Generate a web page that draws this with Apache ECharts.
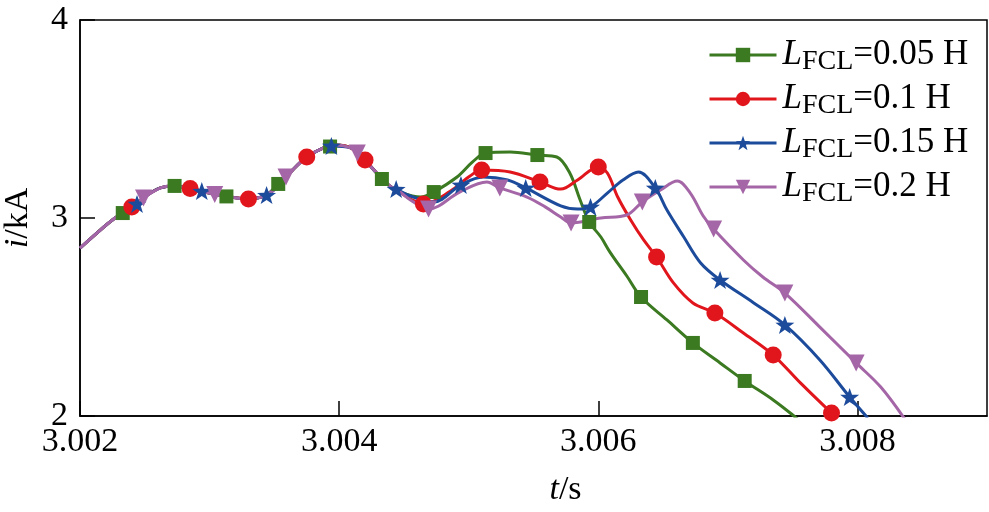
<!DOCTYPE html>
<html><head><meta charset="utf-8">
<script src="https://cdn.jsdelivr.net/npm/echarts@6/dist/echarts.min.js"></script>
<style>html,body{margin:0;padding:0;background:#fff}#c{width:989px;height:512px}</style>
</head><body><div id="c"></div>
<script>
// x: t / s, y: i / kA
const xTicks = [3.002, 3.004, 3.006, 3.008];
const yTicks = [2, 3, 4];
const seriesNames = ['LFCL=0.05 H', 'LFCL=0.1 H', 'LFCL=0.15 H', 'LFCL=0.2 H'];

// shared part of all four curves
const common = [
  [3.00200,2.848],[3.00213,2.924],[3.00225,2.990],[3.00239,3.051],[3.00252,3.116],
  [3.00262,3.152],[3.00271,3.162],[3.00279,3.157],[3.00290,3.141],[3.00303,3.121],
  [3.00316,3.106],[3.00329,3.096],[3.00337,3.101],[3.00344,3.116],[3.00354,3.167],
  [3.00364,3.242],[3.00375,3.308],[3.00388,3.354],[3.00398,3.369],[3.00409,3.354],
  [3.00419,3.298],[3.00429,3.227],[3.00439,3.162],[3.00447,3.131]
];

// L = 0.05 H
const tailG = [
  [3.00463,3.106],[3.00491,3.207],[3.00503,3.283],[3.00532,3.333],[3.00568,3.308],
  [3.00578,3.227],[3.00586,3.091],[3.00602,2.904],[3.00609,2.828],[3.00622,2.707],
  [3.00653,2.485],[3.00694,2.268],[3.00735,2.081],[3.00751,2.000],[3.00756,1.970]
];
const markG = [
  [3.00233,3.025],[3.00273,3.162],[3.00313,3.109],[3.00353,3.172],[3.00393,3.361],
  [3.00433,3.197],[3.00473,3.131],[3.00513,3.328],[3.00553,3.318],[3.00593,2.980],
  [3.00633,2.601],[3.00673,2.369],[3.00713,2.177]
];

// L = 0.1 H
const tailR = [
  [3.00455,3.096],[3.00486,3.136],[3.00501,3.212],[3.00532,3.232],[3.00571,3.146],
  [3.00584,3.192],[3.00607,3.227],[3.00615,3.106],[3.00625,2.990],[3.00635,2.889],
  [3.00658,2.672],[3.00673,2.571],[3.00712,2.419],[3.00756,2.167],[3.00787,1.975]
];
const markR = [
  [3.00240,3.056],[3.00285,3.149],[3.00330,3.096],[3.00375,3.308],[3.00420,3.293],
  [3.00465,3.071],[3.00510,3.242],[3.00555,3.182],[3.00600,3.258],[3.00645,2.803],
  [3.00690,2.520],[3.00735,2.308],[3.00780,2.015]
];

// L = 0.15 H
const tailB = [
  [3.00455,3.111],[3.00473,3.081],[3.00511,3.207],[3.00530,3.192],[3.00571,3.061],
  [3.00584,3.045],[3.00607,3.126],[3.00619,3.192],[3.00631,3.232],[3.00640,3.192],
  [3.00653,3.040],[3.00666,2.904],[3.00679,2.773],[3.00720,2.571],[3.00771,2.283],
  [3.00808,1.990]
];
const markB = [
  [3.00244,3.071],[3.00294,3.136],[3.00344,3.116],[3.00394,3.364],[3.00444,3.146],
  [3.00494,3.167],[3.00544,3.152],[3.00594,3.056],[3.00644,3.152],[3.00694,2.687],
  [3.00744,2.460],[3.00794,2.096]
];

// L = 0.2 H
const tailP = [
  [3.00455,3.091],[3.00493,3.131],[3.00514,3.182],[3.00545,3.106],[3.00559,3.056],
  [3.00571,3.005],[3.00602,3.000],[3.00622,3.015],[3.00648,3.141],[3.00661,3.187],
  [3.00671,3.126],[3.00681,3.010],[3.00712,2.788],[3.00727,2.702],[3.00771,2.449],
  [3.00818,2.146],[3.00837,1.980]
];
const markP = [
  [3.00249,3.101],[3.00304,3.119],[3.00359,3.207],[3.00414,3.328],[3.00469,3.045],
  [3.00524,3.152],[3.00579,2.975],[3.00634,3.081],[3.00689,2.944],[3.00744,2.621],
  [3.00799,2.268]
];

const colors = ['#3b7a21', '#e1161d', '#1d4b9b', '#a466a6'];
const starPath = 'path://M50,0 L62,34 L98,35 L69,57 L80,92 L50,71 L20,92 L31,57 L2,35 L38,34 Z';
const symbols = ['rect', 'circle', starPath, 'triangle'];
const symSizes = [14, 17, [19, 18], 17];
const symRot = [0, 0, 0, 180];

function build(tail, marks) {
  const curve = common.concat(tail).filter(p => !marks.some(m => Math.abs(m[0] - p[0]) < 0.00004));
  const pts = curve.map(p => ({ value: p, symbol: 'none' })).concat(marks.map(m => ({ value: m })));
  pts.sort((a, b) => a.value[0] - b.value[0]);
  return pts;
}
const datasets = [build(tailG, markG), build(tailR, markR), build(tailB, markB), build(tailP, markP)];

const serif = '"Liberation Serif", "Times New Roman", serif';
const chart = echarts.init(document.getElementById('c'), null, { renderer: 'canvas' });
chart.setOption({
  animation: false,
  backgroundColor: '#fff',
  textStyle: { fontFamily: serif },
  grid: { left: 80, right: 2, top: 20, bottom: 96, show: true, borderColor: '#000', borderWidth: 1.5,
    containLabel: false, outerBoundsMode: 'none' },
  legend: {
    orient: 'vertical', left: 708, top: 34, padding: 0, itemWidth: 67, itemHeight: 18, itemGap: 2,
    data: seriesNames,
    lineStyle: { width: 3 },
    formatter: name => '{l|L}{s|FCL}{n|' + name.slice(4) + '}',
    textStyle: {
      fontFamily: serif, color: '#000',
      rich: {
        l: { fontFamily: serif, fontStyle: 'italic', fontSize: 35, lineHeight: 40, padding: [0, 0, 0, 1], color: '#000' },
        s: { fontFamily: serif, fontSize: 28, lineHeight: 26, padding: [14, 0, 0, 0], color: '#000' },
        n: { fontFamily: serif, fontSize: 35, lineHeight: 40, color: '#000' }
      }
    }
  },
  xAxis: {
    type: 'value', min: xTicks[0], max: 3.009, interval: 0.002,
    name: '{i|t}/s', nameLocation: 'middle', nameGap: 57,
    nameTextStyle: {
      fontFamily: serif, fontSize: 34, color: '#000', padding: [0, 0, 0, 64],
      rich: { i: { fontFamily: serif, fontStyle: 'italic', fontSize: 34, color: '#000' } }
    },
    axisLine: { onZero: false, lineStyle: { color: '#000', width: 1.5 } },
    axisTick: { inside: true, length: 15, lineStyle: { color: '#000', width: 1.5 } },
    axisLabel: { showMaxLabel: false, margin: 9, fontFamily: serif, fontSize: 34, color: '#000',
      formatter: v => v.toFixed(3) },
    splitLine: { show: false }
  },
  yAxis: {
    type: 'value', min: yTicks[0], max: yTicks[yTicks.length - 1], interval: 1,
    name: '{i|i}/kA', nameLocation: 'middle', nameGap: 45, nameRotate: 90,
    nameTextStyle: {
      fontFamily: serif, fontSize: 34, color: '#000',
      rich: { i: { fontFamily: serif, fontStyle: 'italic', fontSize: 34, color: '#000' } }
    },
    axisLine: { onZero: false, lineStyle: { color: '#000', width: 1.5 } },
    axisTick: { inside: true, length: 15, lineStyle: { color: '#000', width: 1.5 } },
    axisLabel: { margin: 12, fontFamily: serif, fontSize: 34, color: '#000' },
    splitLine: { show: false }
  },
  series: seriesNames.map((n, k) => ({
    name: n, type: 'line', smooth: 0.35, data: datasets[k],
    symbol: symbols[k], symbolSize: symSizes[k], symbolRotate: symRot[k],
    showSymbol: true, showAllSymbol: true,
    color: colors[k],
    itemStyle: { color: colors[k], opacity: 1 },
    lineStyle: { color: colors[k], width: 3 },
    clip: true
  }))
});
</script>
</body></html>
